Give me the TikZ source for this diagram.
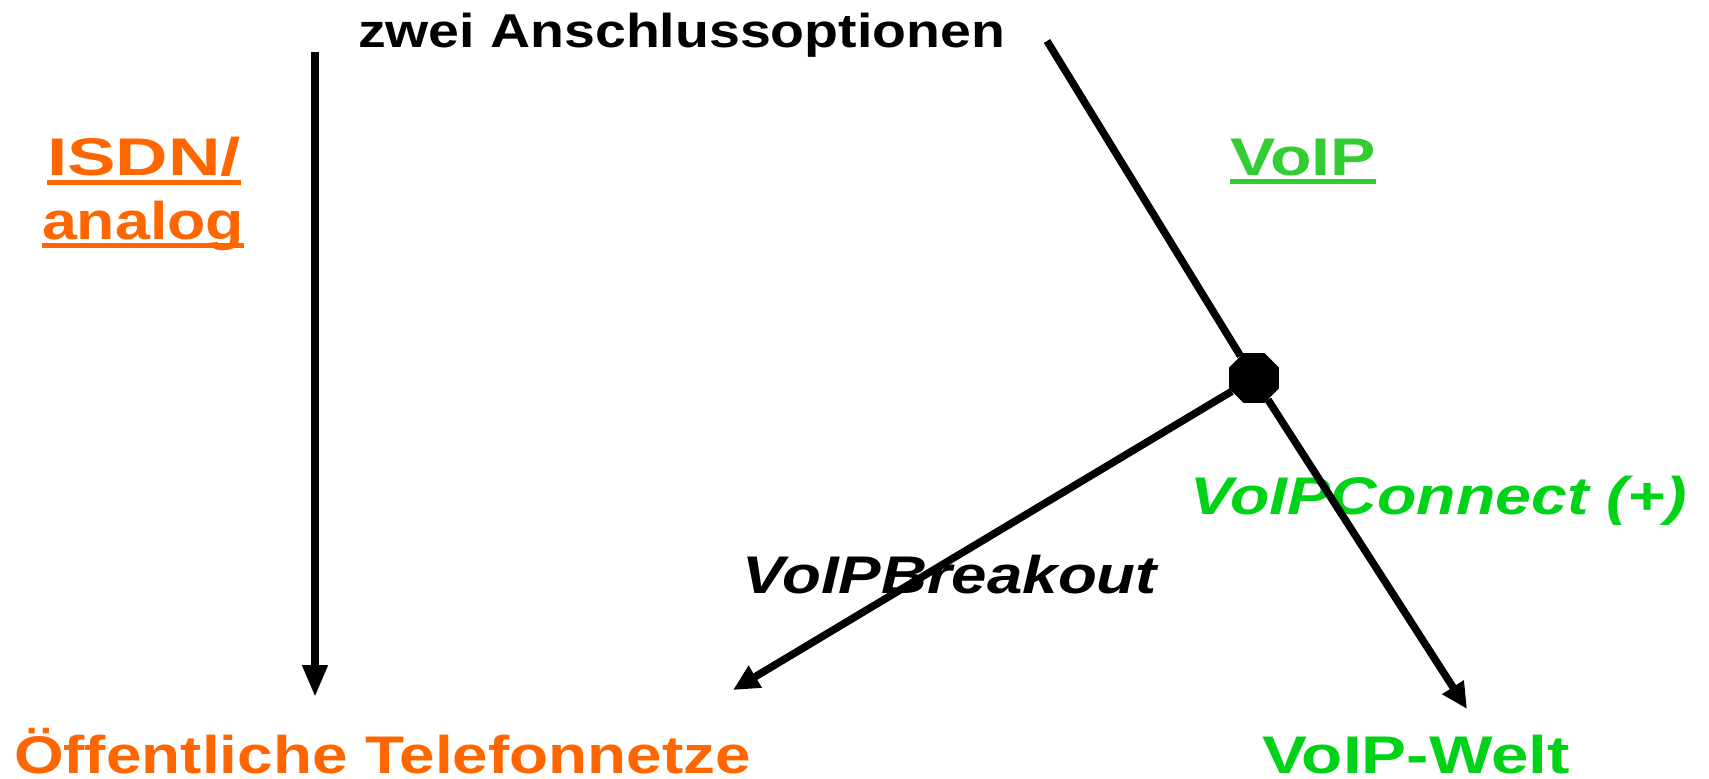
\documentclass[tikz,border=0pt]{standalone}
\usepackage{fontspec}
\usepackage{graphicx}
\setmainfont{Liberation Sans}
\usetikzlibrary{arrows.meta,shapes.geometric,calc}
\definecolor{orng}{RGB}{255,102,0}
\definecolor{grnA}{RGB}{51,204,51}
\definecolor{grnB}{RGB}{0,210,24}
\newcommand\fitw[2]{\resizebox{#1}{\height}{#2}}
\tikzset{
  lbl/.style={inner sep=0pt, outer sep=0pt, anchor=base west, font=\bfseries\fontsize{53}{60}\selectfont},
  conn/.style={line width=7.5pt, draw=black},
  arr/.style={conn, -{Triangle[length=26pt,width=24pt]}},
  junction/.style={regular polygon, regular polygon sides=8, minimum size=54pt, inner sep=0pt, fill=black},
  uline/.style={line width=5pt}
}
\begin{document}
\begin{tikzpicture}[x=1pt,y=-1pt]
\useasboundingbox (0,0) rectangle (1709,779);
% texts
\node[lbl, font=\bfseries\fontsize{47.5}{55}\selectfont] (top) at (358,48) {\fitw{647pt}{zwei Anschlussoptionen}};
\node[lbl, text=orng] (isdn) at (47,175) {\fitw{194pt}{ISDN/}};
\node[lbl, text=orng] (analog) at (42,239) {\fitw{202pt}{analog}};
\node[lbl, text=grnA] (voip) at (1230,175) {\fitw{146pt}{VoIP}};
\node[lbl, text=grnB, font=\bfseries\itshape\fontsize{53}{60}\selectfont] (connect) at (1190,514) {\fitw{497pt}{VoIPConnect (+)}};
\node[lbl, text=black, font=\bfseries\itshape\fontsize{53}{60}\selectfont] (breakout) at (742,593) {\fitw{415pt}{VoIPBreakout}};
\node[lbl, text=orng] (oeff) at (14,773) {\fitw{737pt}{Öffentliche Telefonnetze}};
\node[lbl, text=grnB] (welt) at (1262,773) {\fitw{308pt}{VoIP-Welt}};
% underlines
\draw[uline, orng] ($(isdn.base west)+(0,7)$) -- ($(isdn.base east)+(0,7)$);
\draw[uline, orng] ($(analog.base west)+(0,6.5)$) -- ($(analog.base east)+(0,6.5)$);
\draw[uline, grnA] ($(voip.base west)+(0,6.5)$) -- ($(voip.base east)+(0,6.5)$);
% connectors
\coordinate (vstart) at (315,52);
\coordinate (vend) at (315,697);
\coordinate (dtop) at (1047,41);
\coordinate (weltend) at (1467,709);
\coordinate (breakend) at (733,690);
\node[junction] (j) at (1254,378) {};
\draw[conn, -{Triangle[length=32pt,width=24pt]}] (vstart) -- (vend);
\draw[conn] (dtop) -- (j);
\draw[arr] (j) -- (weltend);
\draw[arr] (j) -- (breakend);
\end{tikzpicture}
\end{document}
